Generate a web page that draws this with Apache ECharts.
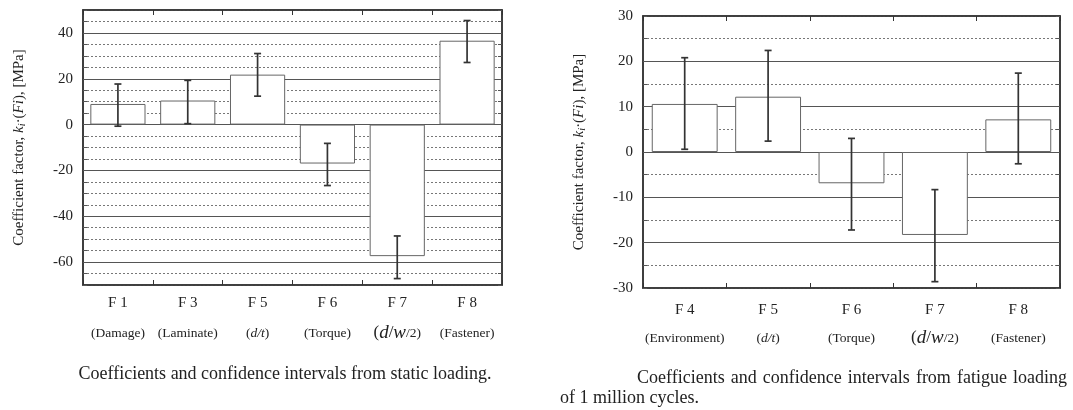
<!DOCTYPE html>
<html><head><meta charset="utf-8">
<script src="https://cdn.jsdelivr.net/npm/echarts@6/dist/echarts.min.js"></script>
<style>html,body{margin:0;padding:0;background:#fff}#c{width:1073px;height:410px}</style>
</head><body><div id="c"></div>
<script>
// ---- data ----
const staticCats = ['F 1', 'F 3', 'F 5', 'F 6', 'F 7', 'F 8'];
const staticNames = ['Damage', 'Laminate', 'd/t', 'Torque', 'd/w/2', 'Fastener'];
const staticValues = [9.0, 10.5, 21.8, -17.0, -57.4, 36.6];
const staticLow = [-0.7, 0.4, 12.4, -26.6, -67.2, 27.1];
const staticHigh = [17.7, 19.3, 31.0, -8.2, -48.6, 45.4];
const staticMajorTicks = [-60, -40, -20, 0, 20, 40];

const fatigueCats = ['F 4', 'F 5', 'F 6', 'F 7', 'F 8'];
const fatigueNames = ['Environment', 'd/t', 'Torque', 'd/w/2', 'Fastener'];
const fatigueValues = [10.6, 12.2, -6.9, -18.3, 7.2];
const fatigueLow = [0.6, 2.4, -17.2, -28.6, -2.6];
const fatigueHigh = [20.8, 22.4, 3.0, -8.3, 17.4];
const fatigueMajorTicks = [-20, -10, 0, 10, 20];

const captionLeft = 'Coefficients and confidence intervals from static loading.';
const captionRight1 = 'Coefficients and confidence intervals from fatigue loading';
const captionRight2 = 'of 1 million cycles.';

// ---- styling ----
const SERIF = '"Liberation Serif", "DejaVu Serif", serif';
const TXT = '#222';

function nameRich(n) {
  if (n === 'd/t') return '{p|(}{i|d/t}{p|)}';
  if (n === 'd/w/2') return '{b|(}{bi|d}{b|/}{bi|w}{s|/2)}';
  return '{p|(' + n + ')}';
}
function catLabelFactory(cats, names) {
  return function (v) {
    const i = cats.indexOf(v);
    return '{f|' + v + '}\n' + nameRich(names[i]);
  };
}
function richStyles(lh) {
  return {
    f: {fontFamily: SERIF, fontSize: 15, color: TXT, lineHeight: lh},
    p: {fontFamily: SERIF, fontSize: 13.5, color: TXT, lineHeight: lh},
    i: {fontFamily: SERIF, fontSize: 13.5, fontStyle: 'italic', color: TXT, lineHeight: lh},
    b: {fontFamily: SERIF, fontSize: 17, color: TXT, lineHeight: lh},
    bi: {fontFamily: SERIF, fontSize: 19, fontStyle: 'italic', color: TXT, lineHeight: lh},
    s: {fontFamily: SERIF, fontSize: 13.5, color: TXT, lineHeight: lh}
  };
}
const yName = 'Coefficient factor, {i|k}{sub|i}{n|·(}{i|Fi}{n|), [MPa]}';
const yNameStyle = {
  fontFamily: SERIF, fontSize: 15, color: TXT,
  rich: {
    i: {fontFamily: SERIF, fontSize: 15, fontStyle: 'italic', color: TXT},
    sub: {fontFamily: SERIF, fontSize: 10.5, fontStyle: 'italic', color: TXT, padding: [6, 0, 0, 0]},
    n: {fontFamily: SERIF, fontSize: 15, color: TXT}
  }
};

function errorRender(params, api) {
  const x = api.value(0), lo = api.value(1), hi = api.value(2);
  const p1 = api.coord([x, hi]), p2 = api.coord([x, lo]);
  const w = 3.5;
  const st = {stroke: '#333', lineWidth: 1.7};
  return {type: 'group', children: [
    {type: 'line', shape: {x1: p1[0], y1: p1[1], x2: p2[0], y2: p2[1]}, style: st},
    {type: 'line', shape: {x1: p1[0] - w, y1: p1[1], x2: p1[0] + w, y2: p1[1]}, style: st},
    {type: 'line', shape: {x1: p2[0] - w, y1: p2[1], x2: p2[0] + w, y2: p2[1]}, style: st}
  ]};
}

function yAxes(gi, min, max, major) {
  return [{
    type: 'value', gridIndex: gi, min: min, max: max, interval: 5,
    name: yName, nameLocation: 'middle', nameGap: 55, nameRotate: 90,
    nameTextStyle: yNameStyle,
    axisLine: {show: true, lineStyle: {color: '#333', width: 1.5}},
    axisTick: {show: true, inside: true, length: 4, lineStyle: {color: '#555'}},
    axisLabel: {
      fontFamily: SERIF, fontSize: 15, color: TXT, margin: 10,
      formatter: function (v) { return (v % major === 0) ? String(v) : ''; }
    },
    splitLine: {show: true, lineStyle: {type: [2, 2], color: '#777', width: 1}}
  }, {
    type: 'value', gridIndex: gi, min: min, max: max, interval: 5, position: 'right',
    axisLine: {show: true, lineStyle: {color: '#333', width: 1.5}},
    axisTick: {show: true, inside: true, length: 4, lineStyle: {color: '#555'}},
    axisLabel: {show: false}, splitLine: {show: false}
  }];
}
function xAxes(gi, cats, names, lh, margin) {
  return [{
    type: 'category', gridIndex: gi, data: cats, position: 'bottom',
    axisLine: {show: true, onZero: false, lineStyle: {color: '#333', width: 1.5}},
    axisTick: {show: true, inside: true, length: 5, lineStyle: {color: '#333'}},
    axisLabel: {interval: 0, margin: margin, formatter: catLabelFactory(cats, names), rich: richStyles(lh)},
    splitLine: {show: false}
  }, {
    type: 'category', gridIndex: gi, data: cats, position: 'top',
    axisLine: {show: true, onZero: false, lineStyle: {color: '#333', width: 1.5}},
    axisTick: {show: true, inside: true, length: 5, lineStyle: {color: '#333'}},
    axisLabel: {show: false}, splitLine: {show: false}
  }];
}

const ys = yAxes(0, -70, 50, 20).concat(yAxes(1, -30, 30, 10));
const xs = xAxes(0, staticCats, staticNames, 30, 3).concat(xAxes(1, fatigueCats, fatigueNames, 27.6, 8.6));

function majorLines(xi, yi, ticks) {
  return {
    type: 'line', xAxisIndex: xi, yAxisIndex: yi, data: [], z: 1, silent: true,
    markLine: {
      z: 1, silent: true, symbol: ['none', 'none'], label: {show: false},
      lineStyle: {type: 'solid', color: '#555', width: 1},
      emphasis: {disabled: true},
      data: ticks.map(function (v) { return {yAxis: v}; })
    }
  };
}
function bars(xi, yi, vals) {
  return {
    type: 'bar', xAxisIndex: xi, yAxisIndex: yi, data: vals, barWidth: '79%', z: 3,
    itemStyle: {color: '#fff', borderColor: '#666', borderWidth: 1}, silent: true
  };
}
function errs(xi, yi, lo, hi) {
  return {
    type: 'custom', xAxisIndex: xi, yAxisIndex: yi, z: 4, silent: true,
    renderItem: errorRender,
    data: lo.map(function (l, i) { return [i, l, hi[i]]; })
  };
}

// Justified caption words
const ctx = document.createElement('canvas').getContext('2d');
const capFont = '18px "Liberation Serif"';
ctx.font = capFont;
function justified(text, x0, x1, y) {
  const words = text.split(' ');
  const ws = words.map(function (w) { return ctx.measureText(w).width; });
  const total = ws.reduce(function (a, b) { return a + b; }, 0);
  const gap = (x1 - x0 - total) / (words.length - 1);
  let x = x0;
  return words.map(function (w, i) {
    const el = {type: 'text', style: {text: w, x: x, y: y, font: capFont, fill: TXT, textAlign: 'left', textVerticalAlign: 'middle'}};
    x += ws[i] + gap;
    return el;
  });
}

const chart = echarts.init(document.getElementById('c'), null, {renderer: 'canvas'});
chart.setOption({
  animation: false,
  backgroundColor: '#fff',
  grid: [
    {left: 83, right: 571, top: 10, bottom: 125, show: true, borderColor: '#333', borderWidth: 1.5, backgroundColor: 'transparent'},
    {left: 643, right: 13, top: 16, bottom: 122, show: true, borderColor: '#333', borderWidth: 1.5, backgroundColor: 'transparent'}
  ],
  xAxis: xs,
  yAxis: ys,
  series: [
    majorLines(0, 0, staticMajorTicks),
    bars(0, 0, staticValues),
    errs(0, 0, staticLow, staticHigh),
    majorLines(2, 2, fatigueMajorTicks),
    bars(2, 2, fatigueValues),
    errs(2, 2, fatigueLow, fatigueHigh)
  ],
  graphic: [
    {type: 'text', style: {text: captionLeft, x: 285, y: 374, font: capFont, fill: TXT, textAlign: 'center', textVerticalAlign: 'middle'}}
  ].concat(justified(captionRight1, 637, 1067, 378)).concat([
    {type: 'text', style: {text: captionRight2, x: 560, y: 398, font: capFont, fill: TXT, textAlign: 'left', textVerticalAlign: 'middle'}}
  ])
});
</script>
</body></html>
